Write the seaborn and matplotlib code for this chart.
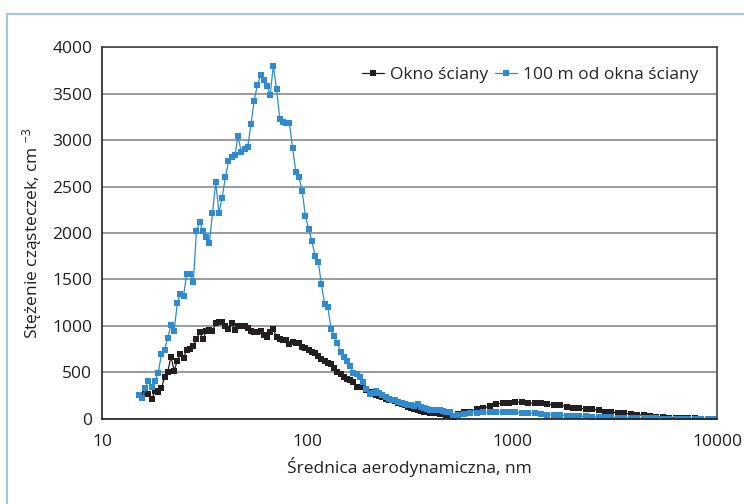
import matplotlib
matplotlib.use("Agg")
import matplotlib.pyplot as plt
import matplotlib.patches as patches
import seaborn as sns
import numpy as np
import pandas as pd

# particle diameters, nm (SMPS channels, then APS channels)
diam_smps = [15.1, 15.7, 16.3, 16.8, 17.5, 18.1, 18.8, 19.5, 20.2, 20.9,
             21.7, 22.5, 23.3, 24.1, 25.0, 25.9, 26.9, 27.9, 28.9, 30.0,
             31.1, 32.2, 33.4, 34.6, 35.9, 37.2, 38.5, 40.0, 41.4, 42.9,
             44.5, 46.1, 47.8, 49.6, 51.4, 53.3, 55.2, 57.3, 59.4, 61.5,
             63.8, 66.1, 68.5, 71.0, 73.7, 76.4, 79.1, 82.0, 85.1, 88.2,
             91.4, 94.7, 98.2, 101.8, 105.5, 109.4, 113.4, 117.6, 121.9, 126.3,
             131.0, 135.8, 140.7, 145.9, 151.2, 156.8, 162.5, 168.5, 174.7, 181.1,
             187.7, 194.6, 201.7, 209.1, 216.7, 224.7, 232.9, 241.4, 250.3, 259.5,
             269.0, 278.8, 289.0, 299.6, 310.6, 322.0, 333.8, 346.0, 358.7, 371.8,
             385.4, 399.5, 414.2, 429.4, 445.1, 461.4, 478.3, 495.8, 514.0]
diam_aps = [542, 583, 626, 673, 723, 777, 835, 898, 965, 1037,
            1114, 1197, 1286, 1382, 1486, 1596, 1715, 1843, 1981, 2129,
            2288, 2458, 2642, 2839, 3051, 3278, 3523, 3786, 4068, 4371,
            4698, 5048, 5425, 5829, 6264, 6732, 7234, 7774, 8354, 8977,
            9647]

# "Okno ściany"
okno_smps = [262, 240, 265, 270, 212, 300, 285, 330, 450, 500,
             670, 520, 624, 700, 655, 745, 755, 785, 858, 935,
             857, 942, 955, 946, 1032, 1045, 1046, 1005, 970, 1035,
             962, 995, 1000, 1003, 975, 949, 930, 940, 950, 905,
             885, 940, 965, 880, 860, 845, 850, 806, 830, 820,
             812, 777, 760, 740, 725, 706, 675, 640, 620, 605,
             590, 550, 510, 480, 455, 435, 418, 400, 340, 345,
             355, 310, 290, 270, 260, 250, 232, 220, 205, 200,
             195, 172, 165, 150, 132, 122, 112, 100, 88, 78,
             72, 68, 63, 60, 56, 52, 45, 30, 5]
okno_aps = [55, 70, 80, 104, 115, 140, 161, 168, 175, 179,
            179, 175, 168, 168, 158, 150, 150, 132, 122, 115,
            108, 104, 97, 80, 74, 68, 61, 54, 45, 38,
            32, 26, 20, 15, 12, 10, 8, 6, 5, 4,
            3]

# "100 m od okna ściany"
dalej_smps = [258, 223, 330, 409, 341, 412, 491, 699, 742, 868,
              1008, 949, 1244, 1344, 1326, 1556, 1562, 1473, 2022, 2118,
              2018, 1954, 1889, 2212, 2548, 2218, 2373, 2599, 2771, 2814,
              2835, 3043, 2871, 2906, 2928, 3169, 3419, 3591, 3696, 3645,
              3584, 3484, 3799, 3548, 3229, 3194, 3186, 3186, 2911, 2656,
              2602, 2452, 2180, 2046, 1914, 1756, 1691, 1448, 1233, 1201,
              971, 892, 814, 720, 669, 624, 570, 491, 484, 455,
              398, 319, 266, 283, 304, 276, 258, 233, 215, 205,
              200, 185, 175, 160, 155, 150, 135, 160, 125, 115,
              105, 100, 100, 95, 95, 90, 80, 70, 30]
dalej_aps = [40, 55, 62, 68, 72, 75, 78, 75, 72, 70,
             65, 62, 60, 50, 45, 42, 40, 35, 33, 30,
             28, 25, 22, 18, 16, 14, 12, 10, 9, 8,
             7, 6, 5, 5, 4, 4, 3, 3, 3, 2,
             2]

series_names = ["Okno ściany", "100 m od okna ściany"]
colors = ["#231f20", "#2e8bd0"]
x_ticks = [10, 100, 1000, 10000]
y_ticks = list(range(0, 4001, 500))

diam = diam_smps + diam_aps
df = pd.concat([
    pd.DataFrame({"d": diam, "c": okno_smps + okno_aps, "seria": series_names[0]}),
    pd.DataFrame({"d": diam, "c": dalej_smps + dalej_aps, "seria": series_names[1]}),
], ignore_index=True)

sns.set_style("white")
plt.rcParams["font.family"] = ["Open Sans", "DejaVu Sans"]
plt.rcParams["mathtext.default"] = "regular"

fig = plt.figure(figsize=(7.44, 5.04), dpi=100)
ax = fig.add_axes([0.137, 0.1687, 0.827, 0.738])

# light blue frame around the figure
fig.patches.append(patches.Rectangle((7 / 744, -0.1), 1.2, 1 - 14 / 504 + 0.1,
                                     transform=fig.transFigure, fill=False,
                                     edgecolor="#9ecae8", linewidth=1.5))

sns.lineplot(data=df, x="d", y="c", hue="seria", style="seria",
             palette=dict(zip(series_names, colors)),
             markers={series_names[0]: "s", series_names[1]: "s"},
             dashes=False, estimator=None, sort=False,
             linewidth=0.9, markersize=4.2, markeredgewidth=0, ax=ax)

ax.set_xscale("log")
ax.set_xlim(10, 10000)
ax.set_ylim(0, 4000)
ax.set_xticks(x_ticks)
ax.set_xticklabels([str(t) for t in x_ticks])
ax.xaxis.set_minor_locator(matplotlib.ticker.NullLocator())
ax.set_yticks(y_ticks)
ax.set_yticklabels([str(t) for t in y_ticks])
ax.tick_params(axis="both", which="major", direction="out", length=4,
               width=1, color="#555555", labelsize=12.5, labelcolor="#231f20", pad=3)
ax.tick_params(axis="x", pad=7)

ax.yaxis.grid(True, color="#8a8a8a", linewidth=1.2)
ax.xaxis.grid(False)
ax.set_axisbelow(True)
for side in ["left", "bottom"]:
    ax.spines[side].set_color("#231f20")
    ax.spines[side].set_linewidth(1.2)
for side in ["top", "right"]:
    ax.spines[side].set_color("#444444")
    ax.spines[side].set_linewidth(1.2)

ax.set_xlabel("Średnica aerodynamiczna, nm", fontsize=12.5, color="#231f20", labelpad=5)
ax.set_ylabel("Stężenie cząsteczek, cm $^{-3}$", fontsize=12.5, color="#231f20", labelpad=6)

handles, labels = ax.get_legend_handles_labels()
ax.legend(handles, labels, loc="upper right", bbox_to_anchor=(0.98, 0.965),
          ncol=2, frameon=False, fontsize=12.5, handlelength=1.3,
          handletextpad=0.3, columnspacing=0.4, borderaxespad=0)

fig.savefig("out.png", dpi=100)
